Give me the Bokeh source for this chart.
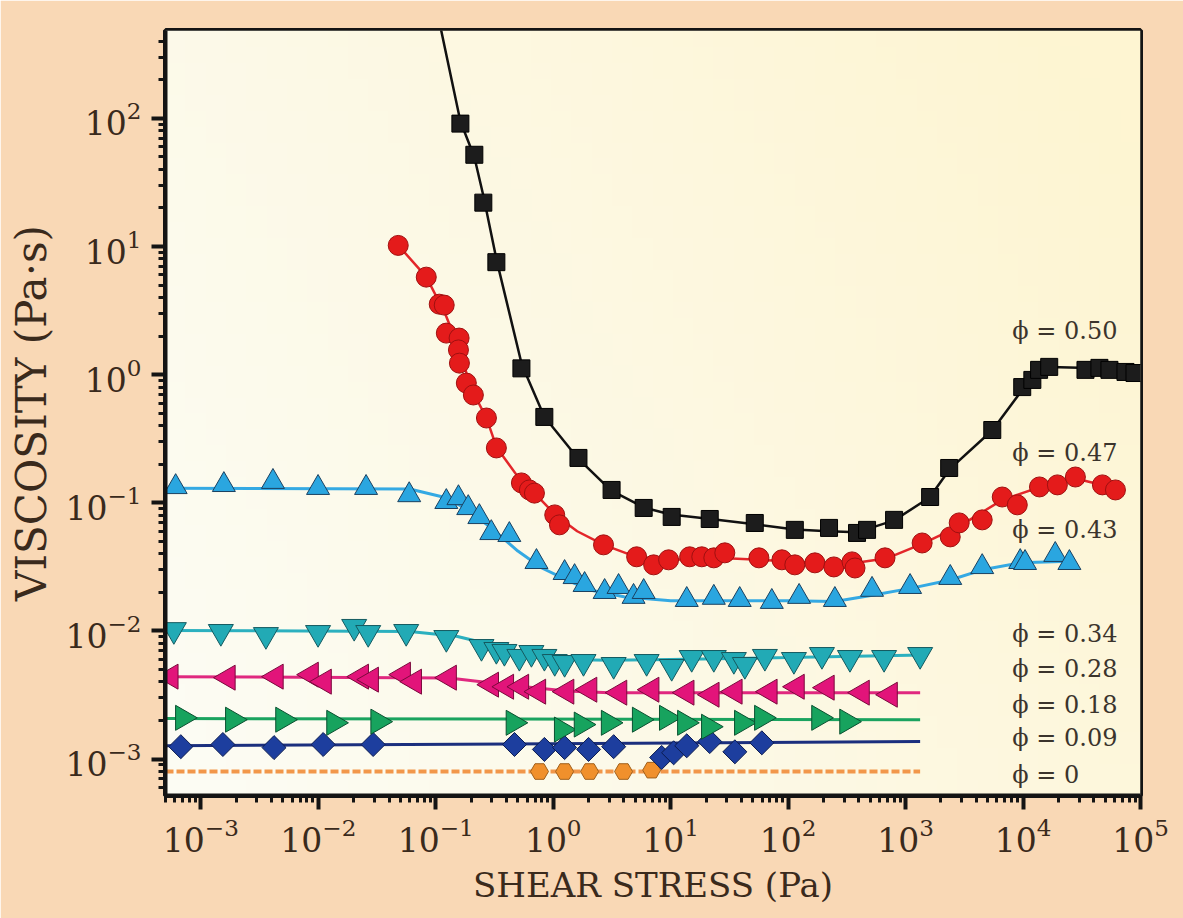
import numpy as np
from bokeh.plotting import figure
from bokeh.models import Range1d, FixedTicker
from bokeh.core.properties import value
from bokeh.embed import file_html
from bokeh.resources import INLINE

# ---- measured data: viscosity (Pa·s) vs shear stress (Pa) ----
# phi = 0.50 (squares)
stress_050 = [0.162, 0.213, 0.254, 0.328, 0.536, 0.84, 1.64, 3.14, 5.89, 10.2, 21.5, 52, 114,
              223, 386, 470, 798, 1618, 2350, 5470, 9840, 12000, 13700, 16700, 34000, 44700,
              54400, 74500, 88900]
visc_050 = [91, 52, 22, 7.55, 1.12, 0.468, 0.224, 0.126, 0.0912, 0.0776, 0.0748, 0.0696, 0.0615,
            0.0637, 0.0582, 0.0615, 0.0736, 0.111, 0.187, 0.370, 0.80, 0.91, 1.09, 1.15, 1.09, 1.13,
            1.09, 1.05, 1.03]

# phi = 0.47 (circles)
stress_047 = [0.0479, 0.083, 0.107, 0.118, 0.123, 0.158, 0.156, 0.159, 0.182, 0.209, 0.270, 0.328,
              0.536, 0.627, 0.692, 1.03, 1.13, 2.68, 5.13, 7.16, 9.6, 14.5, 18.4, 23.3, 28.9, 56.4,
              88.5, 114, 169, 245, 350, 371, 668, 1383, 2400, 2860, 4490, 6650, 8930, 13800,
              19600, 27900, 47400, 61200]
visc_047 = [10.2, 5.77, 3.55, 3.49, 2.11, 1.93, 1.56, 1.23, 0.86, 0.694, 0.459, 0.268, 0.143,
            0.126, 0.119, 0.0805, 0.0673, 0.047, 0.0379, 0.0328, 0.0359, 0.0379, 0.0379, 0.0372,
            0.0407, 0.0372, 0.0359, 0.0328, 0.034, 0.0316, 0.0346, 0.031, 0.0372, 0.0486, 0.0542,
            0.0697, 0.0736, 0.111, 0.0964, 0.133, 0.138, 0.159, 0.138, 0.126]

# phi = 0.43 (up triangles)
stress_043 = [6.1e-4, 1.57e-3, 4.11e-3, 9.95e-3, 0.0255, 0.0594, 0.123, 0.156, 0.189, 0.235, 0.297,
              0.423, 0.72, 1.25, 1.52, 1.85, 2.74, 3.6, 4.83, 5.89, 13.7, 23.3, 38.7, 72.6, 124,
              250, 518, 1092, 2400, 4490, 9460, 10400, 18800, 24800]
visc_043 = [0.133, 0.138, 0.146, 0.131, 0.131, 0.115, 0.1017, 0.109, 0.0912, 0.0776, 0.0582,
            0.0562, 0.0346, 0.0284, 0.0264, 0.0229, 0.0202, 0.0221, 0.0185, 0.0202, 0.0175, 0.0182,
            0.0175, 0.0169, 0.0185, 0.0175, 0.021, 0.0221, 0.026, 0.0316, 0.0346, 0.034, 0.0393,
            0.034]

# phi = 0.34 (down triangles)
stress_034 = [5.89e-4, 1.48e-3, 3.58e-3, 9.95e-3, 0.0202, 0.0266, 0.056, 0.123, 0.245, 0.328,
              0.384, 0.515, 0.652, 0.841, 1.03, 1.25, 1.81, 3.27, 6.24, 10.2, 15.1, 23.3, 34.5,
              42.8, 63.4, 112, 194, 336, 656, 1330]
visc_034 = [0.0102, 0.00986, 0.00933, 0.00968, 0.0108, 0.00968, 0.00986, 0.00885, 0.00753,
            0.00714, 0.00689, 0.0063, 0.00676, 0.0063, 0.00575, 0.00565, 0.00575, 0.00545,
            0.00575, 0.00526, 0.00618, 0.00618, 0.00596, 0.00545, 0.0063, 0.00596, 0.00652,
            0.00618, 0.00618, 0.00652]

# phi = 0.28 (left triangles)
stress_028 = [5.55e-4, 1.70e-3, 4.36e-3, 8.68e-3, 0.0112, 0.0232, 0.0282, 0.0528, 0.0656, 0.130,
              0.297, 0.399, 0.536, 0.748, 1.30, 2.04, 3.67, 6.89, 13.7, 22.4, 35.2, 69.9, 119,
              214, 426, 738]
visc_028 = [0.0044, 0.00432, 0.0044, 0.00456, 0.00402, 0.0044, 0.00417, 0.00456, 0.00402, 0.00432,
            0.00381, 0.00367, 0.00367, 0.00336, 0.00336, 0.00348, 0.0033, 0.00348, 0.0033,
            0.00318, 0.00336, 0.00336, 0.00367, 0.00361, 0.0033, 0.00318]

# phi = 0.18 (right triangles)
stress_018 = [7.02e-4, 1.87e-3, 5.0e-3, 0.0136, 0.0323, 0.458, 1.18, 1.74, 2.96, 5.44, 9.25, 13.2,
              21.1, 40.3, 59.7, 183, 317]
visc_018 = [0.0021, 0.00203, 0.00203, 0.00192, 0.00196, 0.00192, 0.0017, 0.00186, 0.00192, 0.00203,
            0.0021, 0.00192, 0.00179, 0.00192, 0.0021, 0.0021, 0.00196]

# phi = 0.09 (diamonds)
stress_009 = [6.75e-4, 1.54e-3, 4.2e-3, 0.011, 0.0293, 0.468, 0.841, 1.25, 2.0, 3.27, 8.38, 10.6,
              13.7, 21.5, 35.2, 59.7]
visc_009 = [0.00125, 0.0013, 0.00123, 0.0013, 0.0013, 0.0013, 0.00119, 0.00123, 0.00119, 0.00125,
            0.00103, 0.00112, 0.00127, 0.00137, 0.00114, 0.00134]

# phi = 0 (solvent)
stress_000 = [0.764, 1.25, 2.04, 3.97, 6.89]
visc_000 = [0.0008, 0.0008, 0.0008, 0.0008, 0.00082]

# ---- fitted curves ----
fit_stress_050 = [0.111, 0.162, 0.213, 0.254, 0.33, 0.54, 0.84, 1.64, 3.1, 5.9, 10, 21, 52, 114,
                  220, 390, 800, 1600, 2400, 5500, 12000, 17000, 30000, 60000, 90000]
fit_visc_050 = [490, 95, 50, 25, 7.8, 1.2, 0.47, 0.22, 0.125, 0.092, 0.081, 0.075, 0.068, 0.062,
                0.06, 0.059, 0.073, 0.11, 0.185, 0.37, 0.97, 1.15, 1.13, 1.09, 1.05]
fit_stress_047 = [0.048, 0.083, 0.12, 0.158, 0.2, 0.27, 0.33, 0.54, 0.7, 1.05, 1.6, 2.7, 5, 10, 30,
                  100, 300, 700, 1400, 2900, 6600, 14000, 28000, 61000]
fit_visc_047 = [10.2, 5.8, 3.0, 1.6, 0.78, 0.46, 0.27, 0.145, 0.118, 0.08, 0.06, 0.047, 0.038,
                0.036, 0.037, 0.035, 0.033, 0.037, 0.048, 0.066, 0.105, 0.133, 0.155, 0.13]
fit_stress_043 = [5e-4, 0.06, 0.12, 0.19, 0.3, 0.5, 0.8, 1.3, 2, 4, 10, 100, 250, 520, 1100, 2400,
                  4500, 9500, 25000]
fit_visc_043 = [0.13, 0.128, 0.11, 0.088, 0.063, 0.042, 0.031, 0.025, 0.021, 0.0185, 0.0172,
                0.0172, 0.017, 0.019, 0.0215, 0.025, 0.03, 0.034, 0.035]
fit_stress_034 = [5e-4, 0.06, 0.15, 0.3, 0.6, 1.2, 3, 10, 100, 1400]
fit_visc_034 = [0.0101, 0.0099, 0.0091, 0.0078, 0.0067, 0.006, 0.0059, 0.006, 0.0062, 0.0065]
fit_stress_028 = [5e-4, 0.13, 0.4, 1.3, 3, 1330]
fit_visc_028 = [0.0044, 0.0043, 0.0038, 0.0034, 0.0033, 0.0033]
fit_stress_018 = [5e-4, 1330]
fit_visc_018 = [0.00207, 0.00203]
fit_stress_009 = [5e-4, 1330]
fit_visc_009 = [0.00127, 0.00137]
fit_stress_000 = [5e-4, 1330]
fit_visc_000 = [0.0008, 0.0008]

# ---- curve labels ----
phi_labels = ["ϕ = 0.50", "ϕ = 0.47", "ϕ = 0.43", "ϕ = 0.34", "ϕ = 0.28", "ϕ = 0.18",
              "ϕ = 0.09", "ϕ = 0"]
label_stress = [8100] * 8
label_visc = [2.19, 0.245, 0.0615, 0.0095, 0.00507, 0.00266, 0.00145, 0.000757]

# ---- axis ticks ----
x_major = [1e-3, 1e-2, 1e-1, 1e0, 1e1, 1e2, 1e3, 1e4, 1e5]
y_major = [1e-3, 1e-2, 1e-1, 1e0, 1e1, 1e2]


def minor_ticks(lo_exp, hi_exp, lo, hi):
    out = []
    for e in range(lo_exp, hi_exp + 1):
        for k in range(2, 10):
            v = k * 10.0 ** e
            if lo <= v <= hi:
                out.append(v)
    return out


X_LO, X_HI = 5e-4, 1e5
Y_LO, Y_HI = 5.2e-4, 485

p = figure(x_axis_type="log", y_axis_type="log",
           x_range=Range1d(X_LO, X_HI), y_range=Range1d(Y_LO, Y_HI),
           frame_width=975, frame_height=765,
           min_border_left=165, min_border_right=43, min_border_top=30, min_border_bottom=123,
           output_backend="svg", toolbar_location=None,
           background_fill_color="#fdf9e4", border_fill_color="#f9d8b5")

p.grid.visible = False
p.outline_line_color = "#141414"
p.outline_line_width = 5

# soft cream-to-yellow wash behind the data
n = 48
u = np.linspace(0.0, 1.0, n)[None, :]
v = np.linspace(0.0, 1.0, n)[:, None]
t = np.clip(0.75 * u + 0.35 * v - 0.05, 0.0, 1.0)
c0 = np.array([252, 252, 243])
c1 = np.array([254, 245, 210])
rgb = c0[None, None, :] * (1 - t[..., None]) + c1[None, None, :] * t[..., None]
img = np.empty((n, n), dtype=np.uint32)
view = img.view(dtype=np.uint8).reshape((n, n, 4))
view[..., 0] = rgb[..., 0].astype(np.uint8)
view[..., 1] = rgb[..., 1].astype(np.uint8)
view[..., 2] = rgb[..., 2].astype(np.uint8)
view[..., 3] = 255
p.image_rgba(image=[img], x=X_LO, y=Y_LO, dw=X_HI - X_LO, dh=Y_HI - Y_LO, level="image")

p.xaxis[0].ticker = FixedTicker(ticks=x_major, minor_ticks=minor_ticks(-4, 4, X_LO, X_HI))
p.yaxis[0].ticker = FixedTicker(ticks=y_major, minor_ticks=minor_ticks(-4, 2, Y_LO, Y_HI))

for ax in (p.xaxis[0], p.yaxis[0]):
    ax.axis_line_color = "#141414"
    ax.axis_line_width = 4
    ax.major_tick_in = 0
    ax.major_tick_out = 14
    ax.major_tick_line_width = 4
    ax.major_tick_line_color = "#141414"
    ax.minor_tick_in = 0
    ax.minor_tick_out = 7
    ax.minor_tick_line_width = 3
    ax.minor_tick_line_color = "#141414"
    ax.major_label_text_font = "DejaVu Serif"
    ax.major_label_text_font_size = "33px"
    ax.major_label_text_color = "#3a2a1c"
    ax.axis_label_text_font = "DejaVu Serif"
    ax.axis_label_text_font_style = "normal"
    ax.axis_label_text_color = "#3a2a1c"

p.xaxis[0].axis_label = "SHEAR STRESS (Pa)"
p.yaxis[0].axis_label = "VISCOSITY (Pa·s)"
p.xaxis[0].axis_label_text_font_size = "34px"
p.yaxis[0].axis_label_text_font_size = "42px"
p.xaxis[0].major_label_standoff = 8
p.xaxis[0].axis_label_standoff = 10
p.yaxis[0].major_label_standoff = 10
p.yaxis[0].axis_label_standoff = 6

# fitted curves
p.line(fit_stress_000, fit_visc_000, line_color="#f2974a", line_width=4, line_dash="8 3")
p.line(fit_stress_009, fit_visc_009, line_color="#1b2f7e", line_width=3)
p.line(fit_stress_018, fit_visc_018, line_color="#1aa35f", line_width=3)
p.line(fit_stress_028, fit_visc_028, line_color="#e0287f", line_width=3)
p.line(fit_stress_034, fit_visc_034, line_color="#2bb0bf", line_width=3)
p.line(fit_stress_043, fit_visc_043, line_color="#34a9e3", line_width=3)
p.line(fit_stress_047, fit_visc_047, line_color="#e3262a", line_width=2.5)
p.line(fit_stress_050, fit_visc_050, line_color="#111111", line_width=2.5)

# measured points
p.scatter(stress_000, visc_000, marker="hex", size=18, fill_color="#f0902c",
          line_color="#a0601c", line_width=1)
p.scatter(stress_009, visc_009, marker="square", angle=0.7854, size=17, fill_color="#1d3e9e",
          line_color="#0c1c50", line_width=1)
p.scatter(stress_018, visc_018, marker="triangle", angle=-1.5708, size=25, fill_color="#17a35e",
          line_color="#0a5030", line_width=1)
p.scatter(stress_028, visc_028, marker="triangle", angle=1.5708, size=25, fill_color="#e2147a",
          line_color="#7a0a3c", line_width=1)
p.scatter(stress_034, visc_034, marker="inverted_triangle", size=25, fill_color="#22aab5",
          line_color="#145a60", line_width=1)
p.scatter(stress_043, visc_043, marker="triangle", size=23, fill_color="#2aa6e0",
          line_color="#1a4060", line_width=1)
p.scatter(stress_047, visc_047, marker="circle", size=20, fill_color="#e41b1b",
          line_color="#a01010", line_width=1)
p.scatter(stress_050, visc_050, marker="square", size=17, fill_color="#1c1c1c",
          line_color="#000000", line_width=1)

p.text(x=label_stress, y=label_visc, text=phi_labels, text_font=value("DejaVu Serif"),
       text_font_size="24px", text_baseline="middle", text_align="left", text_color="#3b342c")

open("out.html", "w").write(file_html(p, INLINE))
